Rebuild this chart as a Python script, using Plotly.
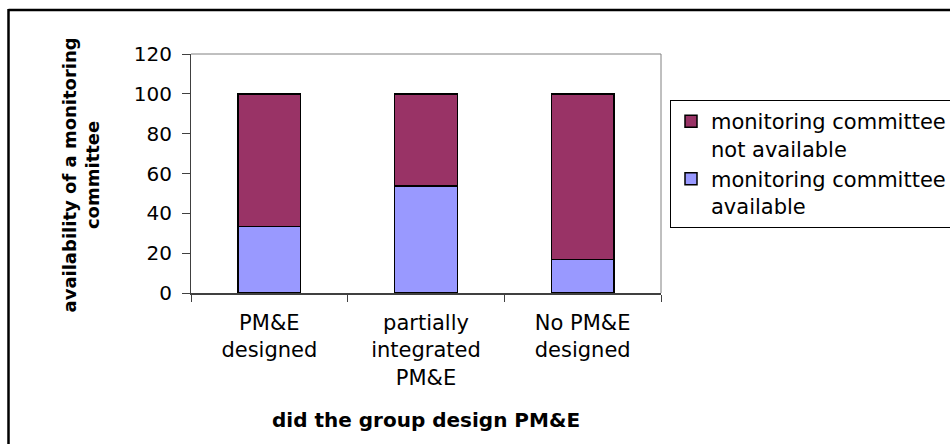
import plotly.graph_objects as go

# Group design of PM&E vs. availability of a monitoring committee (%)
categories = ["PM&E<br>designed", "partially<br>integrated<br>PM&E", "No PM&E<br>designed"]
available = [33.3, 53.8, 16.7]
not_available = [66.7, 46.2, 83.3]
series_names = ["monitoring committee<br>available", "monitoring committee<br>not available"]
y_ticks = [0, 20, 40, 60, 80, 100, 120]

FONT = "DejaVu Sans"
W, H = 950, 444
L, R, T, B = 191, 289, 54, 151
pw, ph = W - L - R, H - T - B


def px_x(x):
    return (x - L) / pw


def px_y(y):
    return (H - B - y) / ph


fig = go.Figure()
fig.add_trace(go.Bar(
    x=categories, y=available, name=series_names[0],
    marker=dict(color="#9999FF", line=dict(color="black", width=1.5)),
))
fig.add_trace(go.Bar(
    x=categories, y=not_available, name=series_names[1],
    marker=dict(color="#993366", line=dict(color="black", width=1.5)),
))

fig.update_layout(
    width=W, height=H,
    margin=dict(l=L, r=R, t=T, b=B, pad=0, autoexpand=False),
    barmode="stack",
    bargap=0.6,
    plot_bgcolor="white",
    paper_bgcolor="white",
    font=dict(family=FONT, size=20, color="black"),
    showlegend=True,
    legend=dict(
        x=px_x(670), y=px_y(100), xanchor="left", yanchor="top",
        traceorder="reversed",
        bgcolor="white", bordercolor="black", borderwidth=1,
        font=dict(family=FONT, size=21, color="black"),
        valign="top",
        itemwidth=30,
    ),
    xaxis=dict(
        showline=True, linecolor="#404040", linewidth=1.5,
        ticks="outside", ticklen=7, tickcolor="#404040", tickwidth=1,
        tickson="boundaries",
        showgrid=False, zeroline=False,
        tickfont=dict(family=FONT, size=21, color="black"),
        ticklabelstandoff=10,
        automargin=False,
    ),
    yaxis=dict(
        range=[0, 120], tickvals=y_ticks,
        showline=True, linecolor="#404040", linewidth=1.2,
        ticks="outside", ticklen=8, tickcolor="#404040", tickwidth=1,
        showgrid=False, zeroline=False,
        tickfont=dict(family=FONT, size=20, color="black"),
        ticklabelstandoff=6,
        automargin=False,
    ),
    shapes=[
        # grey frame on the top and right of the plot area
        dict(type="line", xref="paper", yref="paper", x0=0, x1=1, y0=1, y1=1,
             line=dict(color="#808080", width=1)),
        dict(type="line", xref="paper", yref="paper", x0=1, x1=1, y0=0, y1=1,
             line=dict(color="#808080", width=1)),
        # outer chart border (top and left edges)
        dict(type="line", xref="paper", yref="paper",
             x0=px_x(8.5), x1=px_x(960), y0=px_y(10), y1=px_y(10),
             line=dict(color="black", width=2.5)),
        dict(type="line", xref="paper", yref="paper",
             x0=px_x(8.5), x1=px_x(8.5), y0=px_y(9), y1=px_y(460),
             line=dict(color="black", width=2.5)),
    ],
    annotations=[
        dict(text="<b>availability of a monitoring<br>committee</b>",
             xref="paper", yref="paper", x=px_x(80), y=px_y(175.5),
             xanchor="center", yanchor="middle", textangle=-90,
             showarrow=False, font=dict(family=FONT, size=18, color="black")),
        dict(text="<b>did the group design PM&E</b>",
             xref="paper", yref="paper", x=px_x(426), y=px_y(420),
             xanchor="center", yanchor="middle",
             showarrow=False, font=dict(family=FONT, size=20, color="black")),
    ],
)

fig.write_html("out.html")
